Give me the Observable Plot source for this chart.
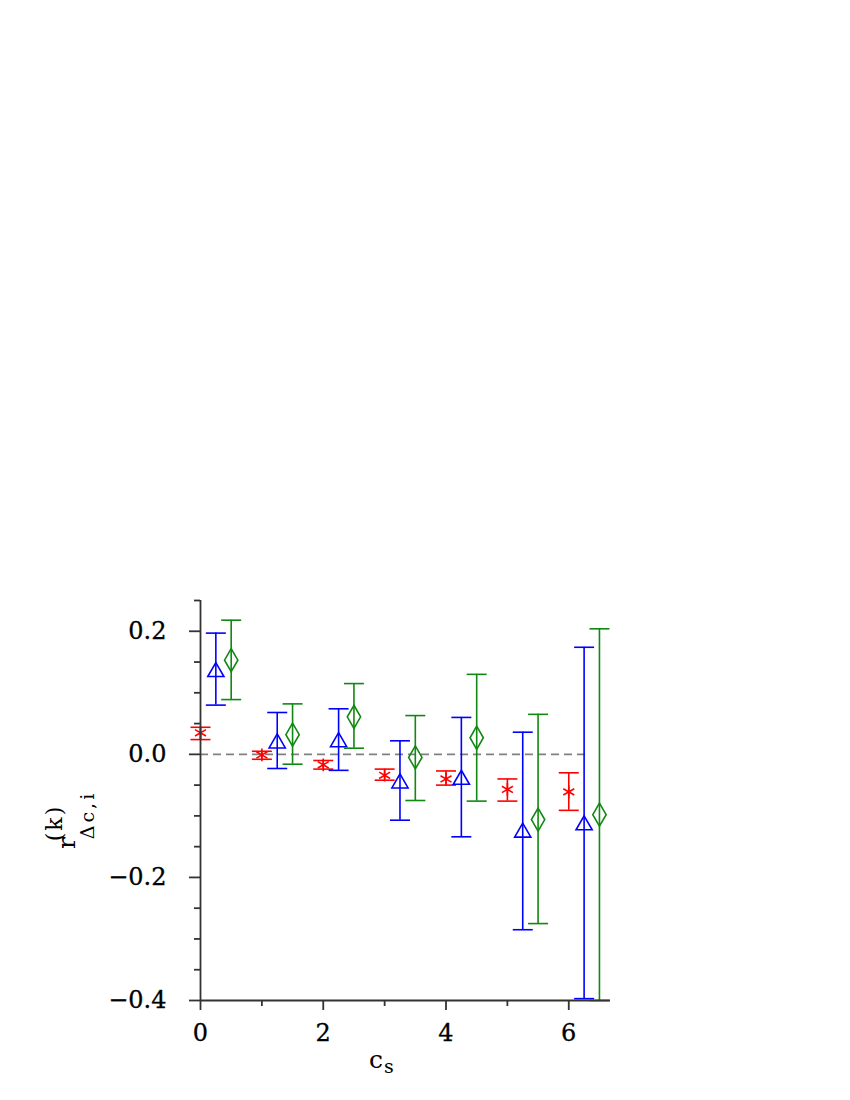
<!DOCTYPE html>
<html>
<head>
<meta charset="utf-8">
<script src="https://cdn.jsdelivr.net/npm/d3@7"></script>
<script src="https://cdn.jsdelivr.net/npm/@observablehq/plot@0.6"></script>
<style>
  html, body { margin: 0; padding: 0; background: #fff; }
  #chart svg { display: block; }
</style>
</head>
<body>
<div id="chart"></div>
<script>
// ---- data ----
const redX  = [0, 1, 2, 3, 4, 5, 6];
const redY  = [0.035, -0.001, -0.017, -0.034, -0.040, -0.057, -0.061];
const redLo = [0.024, -0.008, -0.024, -0.042, -0.050, -0.076, -0.091];
const redHi = [0.044, 0.005, -0.010, -0.024, -0.027, -0.040, -0.030];

const blueX  = [0.25, 1.25, 2.25, 3.25, 4.25, 5.25, 6.25];
const blueY  = [0.134, 0.018, 0.020, -0.047, -0.041, -0.127, -0.115];
const blueLo = [0.080, -0.023, -0.026, -0.107, -0.134, -0.285, -0.397];
const blueHi = [0.197, 0.068, 0.074, 0.022, 0.060, 0.036, 0.174];

const greenX  = [0.5, 1.5, 2.5, 3.5, 4.5, 5.5, 6.5];
const greenY  = [0.153, 0.032, 0.061, -0.005, 0.027, -0.106, -0.098];
const greenLo = [0.089, -0.016, 0.010, -0.075, -0.076, -0.275, -0.400];
const greenHi = [0.218, 0.082, 0.115, 0.063, 0.130, 0.065, 0.204];

const xMajorTicks = [0, 2, 4, 6];
const xMinorTicks = [1, 3, 5];
const yMajorTicks = [-0.4, -0.2, 0.0, 0.2];
const yMinorTicks = [-0.35, -0.3, -0.25, -0.15, -0.1, -0.05, 0.05, 0.1, 0.15, 0.25];
const zeroLineX = [0, 6.35];

// ---- build tables ----
function table(xs, ys, los, his) {
  return xs.map((x, i) => ({x, y: ys[i], lo: los[i], hi: his[i]}));
}
const series = [
  {data: table(redX, redY, redLo, redHi), color: "#ff0000", symbol: "asterisk", r: 6},
  {data: table(blueX, blueY, blueLo, blueHi), color: "#0000ff", symbol: "triangle", r: 6},
  {data: table(greenX, greenY, greenLo, greenHi), color: "#118811", symbol: "diamond", r: 7}
];

const cap = {draw(ctx) { ctx.moveTo(-10, 0); ctx.lineTo(10, 0); }};
const SW = 1.6;
const axisColor = "#333";
const font = "DejaVu Serif";

const marks = [
  Plot.ruleY([0], {x1: zeroLineX[0], x2: zeroLineX[1], stroke: "#808080", strokeWidth: 1.6, strokeDasharray: "8,5"})
];
for (const s of series) {
  marks.push(
    Plot.ruleX(s.data, {x: "x", y1: "lo", y2: "hi", stroke: s.color, strokeWidth: SW}),
    Plot.dot(s.data, {x: "x", y: "lo", symbol: cap, stroke: s.color, strokeWidth: SW}),
    Plot.dot(s.data, {x: "x", y: "hi", symbol: cap, stroke: s.color, strokeWidth: SW}),
    Plot.dot(s.data, {x: "x", y: "y", symbol: s.symbol, r: s.r, stroke: s.color, fill: "none", strokeWidth: SW})
  );
}
marks.push(
  Plot.ruleX([0], {y1: -0.4, y2: 0.25, stroke: axisColor, strokeWidth: 1.8}),
  Plot.ruleY([-0.4], {x1: 0, x2: 6.68, stroke: axisColor, strokeWidth: 1.8}),
  Plot.axisY(yMajorTicks, {tickSize: 11, tickPadding: 23, fontSize: 24, color: axisColor, strokeWidth: 1.8,
    tickFormat: d3.format(".1f"), label: null}),
  Plot.axisY(yMinorTicks, {tickSize: 6, text: null, color: axisColor, strokeWidth: 1.8, label: null}),
  Plot.axisX(xMajorTicks, {tickSize: 10, tickPadding: 13, fontSize: 24, color: axisColor, strokeWidth: 1.8,
    tickFormat: d3.format("d"), label: null}),
  Plot.axisX(xMinorTicks, {tickSize: 6, text: null, color: axisColor, strokeWidth: 1.8, label: null})
);

const svg = Plot.plot({
  width: 850,
  height: 1100,
  marginLeft: 200,
  marginRight: 240,
  marginTop: 600,
  marginBottom: 100,
  style: {fontFamily: font, background: "white"},
  x: {domain: [0, 6.68]},
  y: {domain: [-0.4, 0.25]},
  marks
});

// tick label text pure black, slightly heavier like the reference
d3.select(svg).selectAll("g[aria-label$='tick label']")
  .attr("fill", "#000").attr("stroke", "#000").attr("stroke-width", 0.3);

// y-axis label r^(k)_{Δc,i}
const yl = d3.select(svg).append("text")
  .attr("transform", "translate(75,842) rotate(-90)")
  .attr("font-family", font)
  .attr("fill", "#000");
yl.append("tspan").attr("x", 0).attr("y", 0).attr("font-size", 25).attr("letter-spacing", 2).text("r");
yl.append("tspan").attr("x", 19).attr("y", -13).attr("font-size", 22).attr("letter-spacing", 2).text("(k)");
yl.append("tspan").attr("x", 27).attr("y", 19).attr("font-size", 19).attr("letter-spacing", 3).text("Δc,i");

// x-axis label c_s
const xl = d3.select(svg).append("text")
  .attr("font-family", font)
  .attr("fill", "#000");
xl.append("tspan").attr("x", 376).attr("y", 1068).attr("font-size", 25).text("c");
xl.append("tspan").attr("x", 389).attr("y", 1073).attr("font-size", 19).text("s");

document.getElementById("chart").appendChild(svg);
</script>
</body>
</html>
